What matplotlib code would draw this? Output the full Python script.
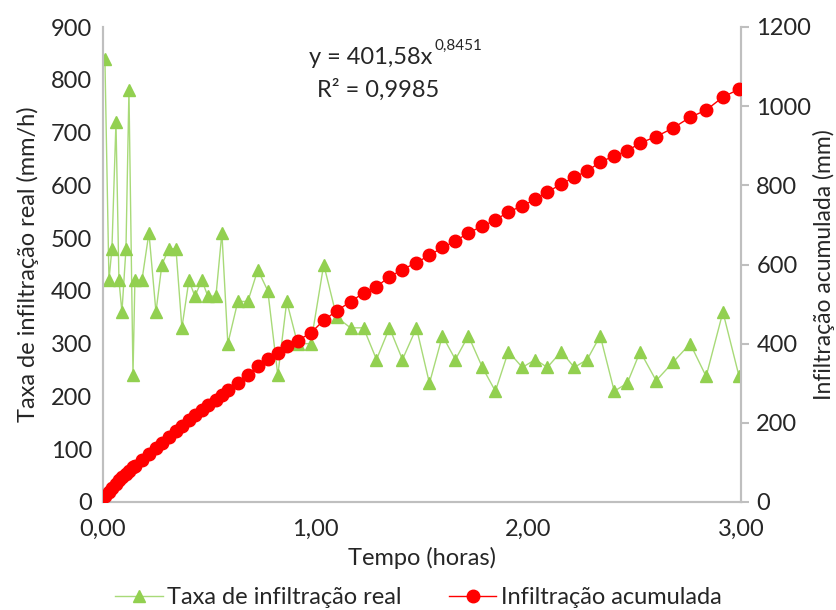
import matplotlib
matplotlib.use("Agg")
import matplotlib.pyplot as plt
from matplotlib.ticker import FuncFormatter, MultipleLocator

plt.rcParams['font.family'] = ['Lato', 'DejaVu Sans']

# time in hours
tempo = [0.009, 0.028, 0.042, 0.061, 0.075, 0.089, 0.108, 0.122, 0.141, 0.150,
         0.183, 0.216, 0.249, 0.277, 0.310, 0.343, 0.371, 0.404, 0.432, 0.465,
         0.493, 0.531, 0.559, 0.587, 0.634, 0.681, 0.728, 0.775, 0.822, 0.864,
         0.915, 0.977, 1.038, 1.099, 1.164, 1.225, 1.286, 1.347, 1.408, 1.474,
         1.535, 1.596, 1.657, 1.718, 1.784, 1.845, 1.906, 1.972, 2.033, 2.089,
         2.155, 2.216, 2.277, 2.338, 2.404, 2.465, 2.526, 2.601, 2.681, 2.761,
         2.836, 2.915, 2.991]

# infiltration rate (mm/h)
taxa = [840, 420, 480, 720, 420, 360, 480, 780, 240, 420,
        420, 510, 360, 450, 480, 480, 330, 420, 390, 420,
        390, 390, 510, 300, 380, 380, 440, 400, 240, 380,
        300, 300, 450, 350, 330, 330, 270, 330, 270, 330,
        225, 315, 270, 315, 255, 210, 285, 255, 270, 255,
        285, 255, 270, 315, 210, 225, 285, 230, 265, 300,
        238, 360, 238]

# cumulative infiltration (mm)
acumulada = [15, 25, 35, 45, 55, 62, 72, 78, 88, 92,
             106, 122, 136, 150, 164, 180, 193, 207, 220, 233,
             244, 258, 270, 282, 301, 321, 344, 362, 377, 394,
             408, 427, 459, 483, 506, 528, 544, 569, 587, 605,
             623, 643, 659, 680, 697, 712, 733, 748, 765, 783,
             803, 821, 836, 859, 874, 887, 907, 923, 945, 972,
             990, 1023, 1043]

green = '#92D050'
green_line = '#A8DA78'
red = '#FF0000'
gray = '#BFBFBF'
txt = '#262626'
fs = 17

fig = plt.figure(figsize=(8.37, 6.10), dpi=100)
ax = fig.add_axes([103/837, 1-502/610, 638/837, 475/610])
ax2 = ax.twinx()

l1, = ax.plot(tempo, taxa, color=green_line, lw=1.0, marker='^', markersize=9,
              markerfacecolor=green, markeredgecolor=green,
              label='Taxa de infiltração real', zorder=2)
l2, = ax2.plot(tempo, acumulada, color=red, lw=1.0, marker='o', markersize=9,
               markerfacecolor=red, markeredgecolor=red,
               label='Infiltração acumulada', zorder=3)

ax.set_xlim(0, 3.0)
ax.set_ylim(0, 900)
ax2.set_ylim(0, 1200)
ax.xaxis.set_major_locator(MultipleLocator(1.0))
ax.yaxis.set_major_locator(MultipleLocator(100))
ax2.yaxis.set_major_locator(MultipleLocator(200))
ax.xaxis.set_major_formatter(FuncFormatter(lambda v, p: f"{v:.2f}".replace('.', ',')))

for a in (ax, ax2):
    a.spines['top'].set_visible(False)
    for s in ('left', 'right', 'bottom'):
        a.spines[s].set_color(gray)
        a.spines[s].set_linewidth(1.5)
ax.tick_params(axis='y', length=0, labelsize=fs, labelcolor=txt, pad=8)
ax.tick_params(axis='x', length=0, labelsize=fs, labelcolor=txt, pad=12)
ax2.tick_params(axis='y', length=6, width=1.5, color=gray, labelsize=fs,
                labelcolor=txt, pad=5, direction='out')

ax.set_xlabel('Tempo (horas)', fontsize=fs, color=txt, labelpad=5)
ax.set_ylabel('Taxa de infiltração real (mm/h)', fontsize=fs, color=txt, labelpad=8)
ax2.set_ylabel('Infiltração acumulada (mm)', fontsize=16.5, color=txt, labelpad=1)

ax.text(0.517, 0.935, 'y = 401,58x', transform=ax.transAxes, ha='right',
        va='center', fontsize=fs, color=txt)
ax.text(0.519, 0.960, '0,8451', transform=ax.transAxes, ha='left',
        va='center', fontsize=11, color=txt)
ax.text(0.431, 0.867, 'R² = 0,9985', transform=ax.transAxes, ha='center',
        va='center', fontsize=fs, color=txt)

fig.legend(handles=[l1, l2], loc='center', bbox_to_anchor=(0.5, 0.02),
           ncol=2, frameon=False, fontsize=fs, handlelength=2.0,
           handletextpad=0.2, columnspacing=2.0, labelcolor=txt)

fig.savefig('out.png', dpi=100)
